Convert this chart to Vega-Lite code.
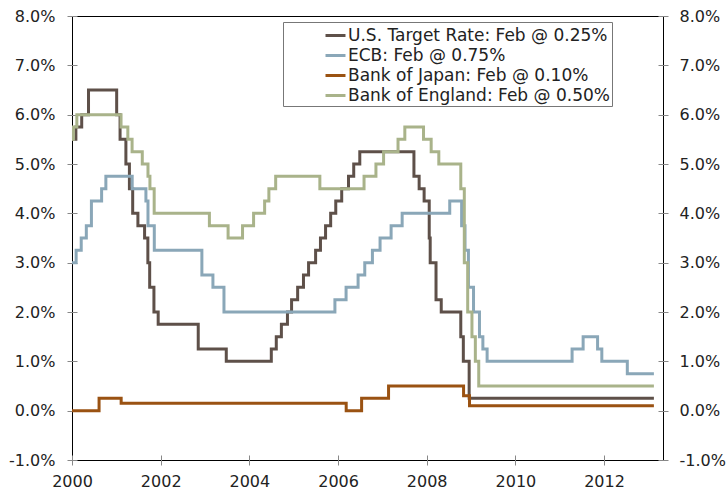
{
  "$schema": "https://vega.github.io/schema/vega-lite/v6.json",
  "width": 591,
  "height": 444,
  "autosize": "none",
  "padding": {"left": 72, "top": 16, "right": 64, "bottom": 33},
  "background": "white",
  "config": {
    "view": {"stroke": "#000", "strokeWidth": 1},
    "font": "DejaVu Sans",
    "axis": {
      "labelFont": "DejaVu Sans",
      "labelFontSize": 16,
      "labelColor": "#222",
      "tickColor": "#888",
      "tickSize": 10,
      "tickWidth": 1,
      "domain": false,
      "grid": false,
      "offset": -5,
      "title": null
    },
    "legend": {
      "labelFont": "DejaVu Sans",
      "labelFontSize": 17,
      "labelColor": "#222"
    }
  },
  "data": {
    "values": [
      {"s": "US", "date": "2000-01-01", "v": 5.5},
      {"s": "US", "date": "2000-02-02", "v": 5.75},
      {"s": "US", "date": "2000-03-21", "v": 6.0},
      {"s": "US", "date": "2000-05-16", "v": 6.5},
      {"s": "US", "date": "2001-01-03", "v": 6.0},
      {"s": "US", "date": "2001-01-31", "v": 5.5},
      {"s": "US", "date": "2001-03-20", "v": 5.0},
      {"s": "US", "date": "2001-04-18", "v": 4.5},
      {"s": "US", "date": "2001-05-15", "v": 4.0},
      {"s": "US", "date": "2001-06-27", "v": 3.75},
      {"s": "US", "date": "2001-08-21", "v": 3.5},
      {"s": "US", "date": "2001-09-17", "v": 3.0},
      {"s": "US", "date": "2001-10-02", "v": 2.5},
      {"s": "US", "date": "2001-11-06", "v": 2.0},
      {"s": "US", "date": "2001-12-11", "v": 1.75},
      {"s": "US", "date": "2002-11-06", "v": 1.25},
      {"s": "US", "date": "2003-06-25", "v": 1.0},
      {"s": "US", "date": "2004-06-30", "v": 1.25},
      {"s": "US", "date": "2004-08-10", "v": 1.5},
      {"s": "US", "date": "2004-09-21", "v": 1.75},
      {"s": "US", "date": "2004-11-10", "v": 2.0},
      {"s": "US", "date": "2004-12-14", "v": 2.25},
      {"s": "US", "date": "2005-02-02", "v": 2.5},
      {"s": "US", "date": "2005-03-22", "v": 2.75},
      {"s": "US", "date": "2005-05-03", "v": 3.0},
      {"s": "US", "date": "2005-06-30", "v": 3.25},
      {"s": "US", "date": "2005-08-09", "v": 3.5},
      {"s": "US", "date": "2005-09-20", "v": 3.75},
      {"s": "US", "date": "2005-11-01", "v": 4.0},
      {"s": "US", "date": "2005-12-13", "v": 4.25},
      {"s": "US", "date": "2006-01-31", "v": 4.5},
      {"s": "US", "date": "2006-03-28", "v": 4.75},
      {"s": "US", "date": "2006-05-10", "v": 5.0},
      {"s": "US", "date": "2006-06-29", "v": 5.25},
      {"s": "US", "date": "2007-09-18", "v": 4.75},
      {"s": "US", "date": "2007-10-31", "v": 4.5},
      {"s": "US", "date": "2007-12-11", "v": 4.25},
      {"s": "US", "date": "2008-01-22", "v": 3.5},
      {"s": "US", "date": "2008-01-30", "v": 3.0},
      {"s": "US", "date": "2008-03-18", "v": 2.25},
      {"s": "US", "date": "2008-04-30", "v": 2.0},
      {"s": "US", "date": "2008-10-08", "v": 1.5},
      {"s": "US", "date": "2008-10-29", "v": 1.0},
      {"s": "US", "date": "2008-12-16", "v": 0.25},
      {"s": "US", "date": "2013-02-15", "v": 0.25},

      {"s": "ECB", "date": "2000-01-01", "v": 3.0},
      {"s": "ECB", "date": "2000-02-04", "v": 3.25},
      {"s": "ECB", "date": "2000-03-17", "v": 3.5},
      {"s": "ECB", "date": "2000-04-28", "v": 3.75},
      {"s": "ECB", "date": "2000-06-09", "v": 4.25},
      {"s": "ECB", "date": "2000-09-01", "v": 4.5},
      {"s": "ECB", "date": "2000-10-06", "v": 4.75},
      {"s": "ECB", "date": "2001-05-11", "v": 4.5},
      {"s": "ECB", "date": "2001-09-01", "v": 4.25},
      {"s": "ECB", "date": "2001-09-18", "v": 3.75},
      {"s": "ECB", "date": "2001-11-09", "v": 3.25},
      {"s": "ECB", "date": "2002-12-06", "v": 2.75},
      {"s": "ECB", "date": "2003-03-07", "v": 2.5},
      {"s": "ECB", "date": "2003-06-06", "v": 2.0},
      {"s": "ECB", "date": "2005-12-06", "v": 2.25},
      {"s": "ECB", "date": "2006-03-08", "v": 2.5},
      {"s": "ECB", "date": "2006-06-15", "v": 2.75},
      {"s": "ECB", "date": "2006-08-09", "v": 3.0},
      {"s": "ECB", "date": "2006-10-11", "v": 3.25},
      {"s": "ECB", "date": "2006-12-13", "v": 3.5},
      {"s": "ECB", "date": "2007-03-14", "v": 3.75},
      {"s": "ECB", "date": "2007-06-13", "v": 4.0},
      {"s": "ECB", "date": "2008-07-09", "v": 4.25},
      {"s": "ECB", "date": "2008-10-15", "v": 3.75},
      {"s": "ECB", "date": "2008-11-12", "v": 3.25},
      {"s": "ECB", "date": "2008-12-10", "v": 2.5},
      {"s": "ECB", "date": "2009-01-21", "v": 2.0},
      {"s": "ECB", "date": "2009-03-11", "v": 1.5},
      {"s": "ECB", "date": "2009-04-08", "v": 1.25},
      {"s": "ECB", "date": "2009-05-13", "v": 1.0},
      {"s": "ECB", "date": "2011-04-13", "v": 1.25},
      {"s": "ECB", "date": "2011-07-13", "v": 1.5},
      {"s": "ECB", "date": "2011-11-09", "v": 1.25},
      {"s": "ECB", "date": "2011-12-14", "v": 1.0},
      {"s": "ECB", "date": "2012-07-11", "v": 0.75},
      {"s": "ECB", "date": "2013-02-15", "v": 0.75},

      {"s": "BOJ", "date": "2000-01-01", "v": 0.0},
      {"s": "BOJ", "date": "2000-08-11", "v": 0.25},
      {"s": "BOJ", "date": "2001-02-09", "v": 0.15},
      {"s": "BOJ", "date": "2006-03-09", "v": 0.0},
      {"s": "BOJ", "date": "2006-07-14", "v": 0.25},
      {"s": "BOJ", "date": "2007-02-21", "v": 0.5},
      {"s": "BOJ", "date": "2008-10-31", "v": 0.3},
      {"s": "BOJ", "date": "2008-12-19", "v": 0.1},
      {"s": "BOJ", "date": "2013-02-15", "v": 0.1},

      {"s": "BOE", "date": "2000-01-01", "v": 5.5},
      {"s": "BOE", "date": "2000-01-13", "v": 5.75},
      {"s": "BOE", "date": "2000-02-10", "v": 6.0},
      {"s": "BOE", "date": "2001-02-08", "v": 5.75},
      {"s": "BOE", "date": "2001-04-05", "v": 5.5},
      {"s": "BOE", "date": "2001-05-10", "v": 5.25},
      {"s": "BOE", "date": "2001-08-02", "v": 5.0},
      {"s": "BOE", "date": "2001-09-18", "v": 4.75},
      {"s": "BOE", "date": "2001-10-04", "v": 4.5},
      {"s": "BOE", "date": "2001-11-08", "v": 4.0},
      {"s": "BOE", "date": "2003-02-06", "v": 3.75},
      {"s": "BOE", "date": "2003-07-10", "v": 3.5},
      {"s": "BOE", "date": "2003-11-06", "v": 3.75},
      {"s": "BOE", "date": "2004-02-05", "v": 4.0},
      {"s": "BOE", "date": "2004-05-06", "v": 4.25},
      {"s": "BOE", "date": "2004-06-10", "v": 4.5},
      {"s": "BOE", "date": "2004-08-05", "v": 4.75},
      {"s": "BOE", "date": "2005-08-04", "v": 4.5},
      {"s": "BOE", "date": "2006-08-03", "v": 4.75},
      {"s": "BOE", "date": "2006-11-09", "v": 5.0},
      {"s": "BOE", "date": "2007-01-11", "v": 5.25},
      {"s": "BOE", "date": "2007-05-10", "v": 5.5},
      {"s": "BOE", "date": "2007-07-05", "v": 5.75},
      {"s": "BOE", "date": "2007-12-06", "v": 5.5},
      {"s": "BOE", "date": "2008-02-07", "v": 5.25},
      {"s": "BOE", "date": "2008-04-10", "v": 5.0},
      {"s": "BOE", "date": "2008-10-08", "v": 4.5},
      {"s": "BOE", "date": "2008-11-06", "v": 3.0},
      {"s": "BOE", "date": "2008-12-04", "v": 2.0},
      {"s": "BOE", "date": "2009-01-08", "v": 1.5},
      {"s": "BOE", "date": "2009-02-05", "v": 1.0},
      {"s": "BOE", "date": "2009-03-05", "v": 0.5},
      {"s": "BOE", "date": "2013-02-15", "v": 0.5}
    ]
  },
  "encoding": {
    "x": {
      "field": "date",
      "type": "temporal",
      "scale": {"domain": ["2000-01-01T00:00:00", "2013-05-01T00:00:00"]},
      "axis": {
        "format": "%Y",
        "tickCount": {"interval": "year", "step": 2},
        "labelPadding": 8,
        "labelAlign": "center"
      }
    },
    "y": {
      "field": "v",
      "type": "quantitative",
      "scale": {"domain": [-1, 8], "nice": false, "zero": false}
    },
    "color": {
      "field": "s",
      "type": "nominal",
      "scale": {
        "domain": ["US", "ECB", "BOJ", "BOE"],
        "range": ["#5e5049", "#8aa7b8", "#9a5212", "#a9b38a"]
      },
      "legend": {
        "orient": "none",
        "legendX": 211,
        "legendY": 6,
        "title": null,
        "fillColor": "white",
        "strokeColor": "#777",
        "padding": 2,
        "symbolType": "stroke",
        "symbolStrokeWidth": 3,
        "symbolSize": 400,
        "symbolOffset": 39,
        "labelOffset": 1,
        "labelLimit": 500,
        "rowPadding": 0,
        "labelExpr": "{'US': 'U.S. Target Rate: Feb @ 0.25%  ', 'ECB': 'ECB: Feb @ 0.75%', 'BOJ': 'Bank of Japan: Feb @ 0.10%', 'BOE': 'Bank of England: Feb @ 0.50%'}[datum.value]"
      }
    }
  },
  "layer": [
    {
      "mark": {"type": "line", "interpolate": "step-after", "strokeWidth": 3, "strokeOpacity": 0},
      "encoding": {
        "y": {
          "field": "v",
          "type": "quantitative",
          "axis": {
            "orient": "right",
            "values": [-1, 0, 1, 2, 3, 4, 5, 6, 7, 8],
            "labelExpr": "(datum.value < 0 ? '-' : '') + format(abs(datum.value), '.1f') + '%'",
            "labelPadding": 11
          }
        }
      }
    },
    {
      "mark": {"type": "line", "interpolate": "step-after", "strokeWidth": 3},
      "encoding": {
        "y": {
          "field": "v",
          "type": "quantitative",
          "axis": {
            "orient": "left",
            "values": [-1, 0, 1, 2, 3, 4, 5, 6, 7, 8],
            "labelExpr": "(datum.value < 0 ? '-' : '') + format(abs(datum.value), '.1f') + '%'",
            "labelPadding": 12
          }
        }
      }
    }
  ],
  "resolve": {"axis": {"y": "independent"}}
}
